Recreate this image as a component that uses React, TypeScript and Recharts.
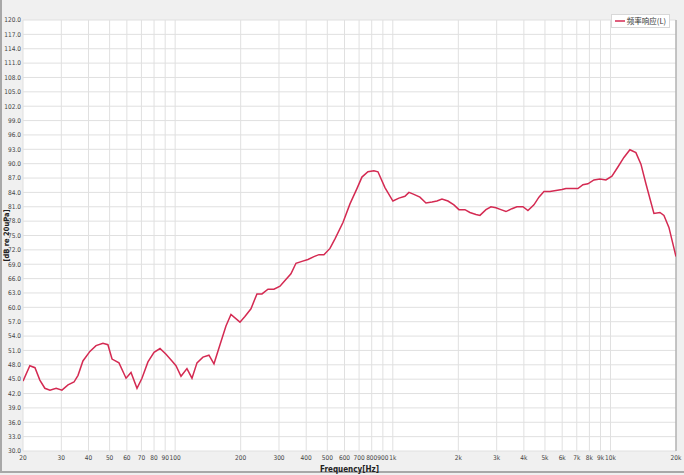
import React from 'react';
import { LineChart, Line, XAxis, YAxis, CartesianGrid, Legend, ReferenceLine } from 'recharts';

const freqs = [
  20, 21.5, 22.7, 23.9, 25.2, 26.6, 28.4, 30.2, 32.2, 34.3, 35.8, 37.7, 40.6, 43.3, 46.6, 49.1,
  51.3, 55.2, 59.5, 62.7, 66.8, 70.4, 75, 80, 85.2, 90.8, 96.7, 100.9, 106.4, 113.3, 119.5, 126,
  134.2, 143, 150.8, 160.7, 171.2, 180.5, 198.5, 209.2, 223, 237.6, 250.6, 267, 284.4, 303.2,
  319.6, 340.4, 359, 382.4, 407.6, 434.2, 457.8, 482.6, 514.4, 542.4, 590.2, 635.6, 684.2, 721.4,
  768.6, 819.2, 854.6, 920.2, 1001, 1067, 1137, 1186, 1250, 1332, 1420, 1513, 1595, 1682, 1792,
  1909, 2013, 2145, 2261, 2410, 2514, 2679, 2824, 2977, 3138, 3309, 3526, 3717, 3962, 4176, 4450,
  4692, 4947, 5272, 5617, 5985, 6244, 6652, 7088, 7472, 7878, 8394, 8944, 9529, 10154, 10816,
  11526, 12281, 13085, 13802, 14550, 15834, 16873, 17605, 18557, 20000,
];

const levels = [
  44.6, 47.8, 47.4, 44.8, 43.1, 42.7, 43.1, 42.7, 43.8, 44.4, 45.8, 48.8, 50.8, 52.0, 52.5, 52.2,
  49.2, 48.4, 45.2, 46.4, 43.1, 45.2, 48.6, 50.6, 51.4, 50.2, 48.8, 47.8, 45.6, 47.2, 45.2, 48.4,
  49.6, 50.0, 48.2, 52.2, 56.1, 58.5, 56.9, 58.1, 59.7, 62.8, 62.8, 63.8, 63.8, 64.4,
  65.6, 67.0, 69.2, 69.6, 70.0, 70.6, 71.0, 71.0, 72.3, 74.3, 77.7, 81.6, 84.8, 87.2,
  88.3, 88.5, 88.3, 85.0, 82.2, 82.8, 83.2, 84.0, 83.6, 83.0, 81.8, 82.0, 82.2, 82.6, 82.2,
  81.4, 80.4, 80.4, 79.8, 79.4, 79.2, 80.4, 81.0, 80.8, 80.4, 80.0, 80.6, 81.0, 81.0, 80.2, 81.4,
  83.0, 84.2, 84.2, 84.4, 84.6, 84.8, 84.8, 84.8, 85.6, 85.8, 86.6, 86.8, 86.6, 87.4, 89.3,
  91.3, 92.9, 92.3, 89.9, 85.8, 79.6, 79.8, 79.2, 76.7, 70.6,
];

const xTicks = [20, 30, 40, 50, 60, 70, 80, 90, 100, 200, 300, 400, 500, 600, 700, 800, 900, 1000,
  2000, 3000, 4000, 5000, 6000, 7000, 8000, 9000, 10000, 20000];
const yTicks = [30, 33, 36, 39, 42, 45, 48, 51, 54, 57, 60, 63, 66, 69, 72, 75, 78, 81, 84, 87, 90,
  93, 96, 99, 102, 105, 108, 111, 114, 117, 120];

const seriesName = '频率响应(L)';
const xLabel = 'Frequency[Hz]';
const yLabel = '[dB re 20uPa]';

const data = freqs.map((f, i) => ({ f, v: levels[i] }));

const fmtX = (v: number) => (v >= 1000 ? `${v / 1000}k` : `${v}`);
const fmtY = (v: number) => v.toFixed(1);

const LINE = '#d42a52';
const FONT = '"Liberation Sans Narrow", "DejaVu Sans Condensed", sans-serif';
const LABEL_FONT = '"DejaVu Sans Condensed", "DejaVu Sans", sans-serif';

const LegendBox = () => (
  <div
    style={{
      display: 'flex',
      alignItems: 'center',
      background: '#fff',
      border: '1px solid #d8d8d8',
      padding: '1px 3px',
      fontFamily: '"Noto Sans CJK SC", sans-serif',
      fontSize: 7.5,
      color: '#333',
      lineHeight: '10px',
    }}
  >
    <svg width={10} height={6} style={{ marginRight: 2 }}>
      <line x1={0} y1={3} x2={10} y2={3} stroke={LINE} strokeWidth={1.5} />
    </svg>
    {seriesName}
  </div>
);

export default function App() {
  return (
    <div
      style={{
        position: 'absolute',
        left: 0,
        top: 0,
        width: 684,
        height: 475,
        background: '#f0f0f0',
        overflow: 'hidden',
      }}
    >
      <div style={{ position: 'absolute', left: 0, top: 0, width: 2, height: 473, background: '#a8a8a8' }} />
      <div style={{ position: 'absolute', left: 0, top: 471, width: 684, height: 2, background: '#a8a8a8' }} />
      <LineChart
        width={684}
        height={475}
        data={data}
        margin={{ top: 6, right: 8, left: 0, bottom: 0 }}
        style={{ fontFamily: FONT }}
      >
        <CartesianGrid stroke="#e0e0e0" strokeWidth={1} fill="#ffffff" verticalValues={xTicks} horizontalValues={yTicks} />
        <XAxis
          dataKey="f"
          type="number"
          scale="log"
          domain={[20, 20000]}
          ticks={xTicks}
          tickFormatter={fmtX}
          allowDataOverflow
          height={24}
          tickSize={0}
          tickMargin={4}
          axisLine={false}
          tick={{ fontSize: 6.5, fill: '#444', fontFamily: FONT }}
          interval={0}
          label={{ value: xLabel, position: 'insideBottom', offset: 3, style: { fontSize: 8, fontWeight: 'bold', fill: '#222', fontFamily: LABEL_FONT } }}
        />
        <YAxis
          type="number"
          domain={[30, 120]}
          ticks={yTicks}
          tickFormatter={fmtY}
          allowDataOverflow
          width={23}
          tickSize={0}
          tickMargin={2}
          axisLine={false}
          interval={0}
          tick={{ fontSize: 6.5, fill: '#444', fontFamily: FONT }}
          label={{ value: yLabel, angle: -90, position: 'insideLeft', offset: 0, dx: 6, style: { fontSize: 7.5, fontWeight: 'bold', fill: '#222', fontFamily: LABEL_FONT, textAnchor: 'middle' } }}
        />
        <ReferenceLine x={20000} stroke="#9a9a9a" strokeWidth={1} />
        <Legend
          verticalAlign="top"
          align="right"
          content={() => <LegendBox />}
          wrapperStyle={{ top: 14, right: 14, left: 'auto', width: 'auto' }}
        />
        <Line
          type="linear"
          dataKey="v"
          name={seriesName}
          stroke={LINE}
          strokeWidth={1.5}
          dot={false}
          isAnimationActive={false}
        />
      </LineChart>
    </div>
  );
}
